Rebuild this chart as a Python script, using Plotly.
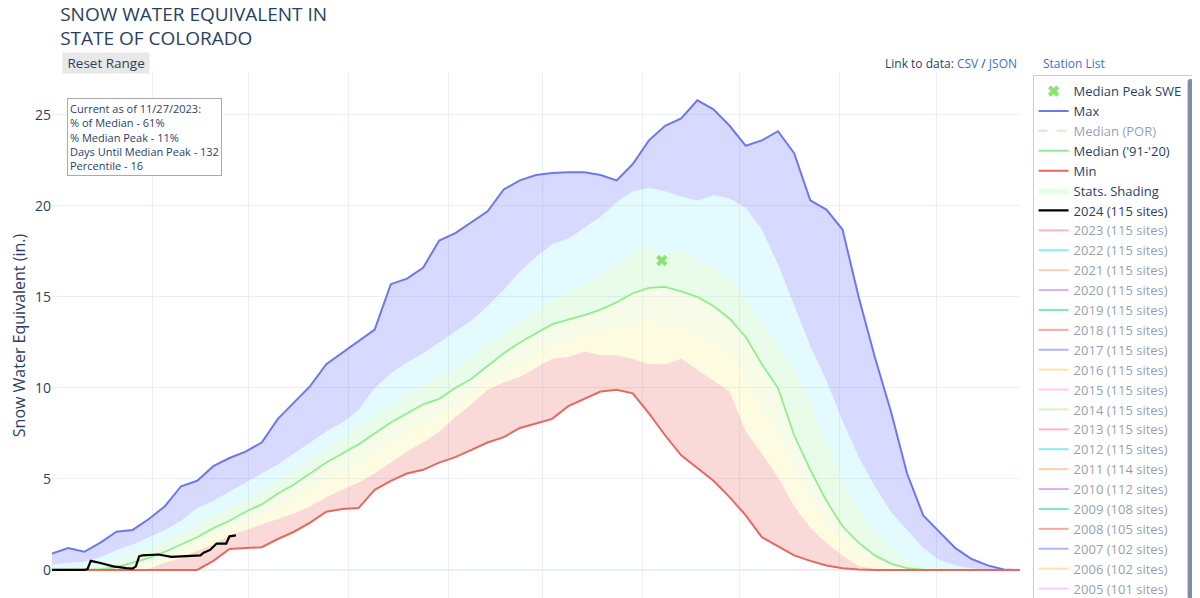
import pandas as pd
import plotly.graph_objects as go

# water year 2024, readings every 5 days from Oct 1
dates = pd.date_range("2023-10-01", periods=61, freq="5D")

swe_max = [0.9, 1.2, 1.0, 1.5, 2.1, 2.2, 2.8, 3.5, 4.6, 4.9,
           5.7, 6.15, 6.5, 7.0, 8.3, 9.2, 10.1, 11.3, 11.95, 12.6,
           13.2, 15.7, 16.0, 16.6, 18.1, 18.5, 19.1, 19.7, 20.9, 21.4,
           21.7, 21.8, 21.85, 21.85, 21.7, 21.4, 22.3, 23.6, 24.4, 24.8,
           25.8, 25.3, 24.4, 23.3, 23.6, 24.1, 22.9, 20.3, 19.8, 18.7,
           15.0, 11.7, 8.7, 5.3, 3.0, 2.1, 1.2, 0.6, 0.25, 0.03, 0.0]
swe_p90 = [0.3, 0.4, 0.45, 0.7, 1.1, 1.4, 1.8, 2.2, 2.7, 3.4,
           3.8, 4.3, 4.8, 5.3, 5.8, 6.4, 7.0, 7.6, 8.1, 8.8,
           10.0, 10.8, 11.4, 11.9, 12.5, 13.1, 13.7, 14.5, 15.4, 16.4,
           17.2, 17.9, 18.2, 18.8, 19.4, 20.2, 20.8, 21.0, 20.8, 20.5,
           20.3, 20.6, 20.4, 19.9, 18.7, 16.8, 14.5, 12.3, 10.4, 8.2,
           6.2, 4.6, 3.2, 2.2, 1.2, 0.55, 0.25, 0.1, 0.0, 0.0, 0.0]
swe_p70 = [0.05, 0.1, 0.15, 0.3, 0.55, 0.85, 1.2, 1.6, 2.0, 2.5,
           3.0, 3.4, 3.9, 4.4, 4.9, 5.5, 6.1, 6.7, 7.3, 7.9,
           8.5, 9.1, 9.7, 10.2, 10.6, 11.1, 11.7, 12.4, 13.1, 13.6,
           14.2, 14.8, 15.3, 15.7, 16.2, 16.8, 17.4, 17.8, 17.3, 17.6,
           17.0, 16.6, 16.0, 14.9, 13.6, 12.4, 11.0, 9.2, 7.0, 5.0,
           3.3, 2.1, 1.2, 0.6, 0.25, 0.08, 0.02, 0.0, 0.0, 0.0, 0.0]
swe_median = [0.0, 0.0, 0.02, 0.05, 0.15, 0.4, 0.65, 1.0, 1.4, 1.8,
              2.3, 2.7, 3.2, 3.6, 4.2, 4.7, 5.3, 5.9, 6.4, 6.9,
              7.5, 8.1, 8.6, 9.1, 9.4, 10.0, 10.5, 11.2, 11.9, 12.5,
              13.0, 13.5, 13.75, 14.0, 14.3, 14.7, 15.2, 15.5, 15.55, 15.3,
              15.0, 14.5, 13.8, 12.8, 11.3, 10.0, 7.4, 5.5, 3.8, 2.4,
              1.5, 0.8, 0.35, 0.1, 0.02, 0.0, 0.0, 0.0, 0.0, 0.0, 0.0]
swe_p30 = [0.0, 0.0, 0.0, 0.0, 0.02, 0.1, 0.3, 0.6, 0.95, 1.35,
           1.8, 2.2, 2.6, 3.0, 3.5, 3.9, 4.4, 4.9, 5.4, 5.8,
           6.4, 7.0, 7.5, 8.0, 8.5, 9.0, 9.6, 10.3, 10.8, 11.3,
           11.8, 12.3, 12.6, 12.9, 13.1, 13.3, 13.5, 13.7, 13.5, 13.3,
           13.0, 12.6, 12.0, 10.6, 9.0, 7.5, 5.6, 3.9, 2.6, 1.6,
           0.8, 0.35, 0.1, 0.02, 0.0, 0.0, 0.0, 0.0, 0.0, 0.0, 0.0]
swe_p10 = [0.0, 0.0, 0.0, 0.0, 0.0, 0.0, 0.05, 0.4, 0.65, 1.05,
           1.4, 1.9, 2.2, 2.5, 2.8, 3.1, 3.5, 4.0, 4.4, 4.8,
           5.3, 5.9, 6.5, 7.0, 7.6, 8.4, 9.1, 9.9, 10.3, 10.6,
           11.1, 11.6, 11.7, 12.0, 11.8, 11.8, 11.6, 11.3, 11.3, 11.6,
           11.0, 10.4, 9.8, 7.6, 6.4, 5.1, 3.5, 2.3, 1.5, 0.8,
           0.2, 0.05, 0.0, 0.0, 0.0, 0.0, 0.0, 0.0, 0.0, 0.0, 0.0]
swe_min = [0.0, 0.0, 0.0, 0.0, 0.0, 0.0, 0.0, 0.0, 0.0, 0.0,
           0.5, 1.15, 1.2, 1.25, 1.7, 2.1, 2.6, 3.2, 3.35, 3.4,
           4.4, 4.9, 5.3, 5.5, 5.9, 6.2, 6.6, 7.0, 7.3, 7.8,
           8.05, 8.3, 9.0, 9.4, 9.8, 9.9, 9.7, 8.6, 7.4, 6.3,
           5.6, 4.9, 4.0, 3.0, 1.8, 1.3, 0.8, 0.5, 0.25, 0.1,
           0.02, 0.0, 0.0, 0.0, 0.0, 0.0, 0.0, 0.0, 0.0, 0.0, 0.0]

wy2024_dates = ["2023-10-01", "2023-10-11", "2023-10-12", "2023-10-13", "2023-10-16",
                "2023-10-20", "2023-10-24", "2023-10-26", "2023-10-27", "2023-10-28",
                "2023-10-29", "2023-11-03", "2023-11-07", "2023-11-11", "2023-11-16",
                "2023-11-17", "2023-11-19", "2023-11-21", "2023-11-24", "2023-11-25",
                "2023-11-27"]
wy2024_swe = [0.0, 0.0, 0.05, 0.5, 0.38, 0.2, 0.1, 0.08, 0.2, 0.75,
              0.8, 0.85, 0.72, 0.75, 0.8, 0.95, 1.1, 1.45, 1.45, 1.85, 1.9]

peak_date = ["2024-04-07"]
peak_swe = [17.0]

past_years = [2023, 2022, 2021, 2020, 2019, 2018, 2017, 2016, 2015, 2014,
              2013, 2012, 2011, 2010, 2009, 2008, 2007, 2006, 2005]
past_sites = [115, 115, 115, 115, 115, 115, 115, 115, 115, 115,
              115, 115, 114, 112, 108, 105, 102, 102, 101]
year_colors = ["#FF6692", "#19D3F3", "#FFA15A", "#AB63FA", "#00CC96", "#EF553B",
               "#636EFA", "#FECB52", "#FF97FF", "#B6E880"]

info_text = ("Current as of 11/27/2023:<br>% of Median - 61%<br>% Median Peak - 11%"
             "<br>Days Until Median Peak - 132<br>Percentile - 16")

fig = go.Figure()

# stats shading, drawn bottom to top
bands = [
    (swe_min, None, False),
    (swe_p10, "rgba(230,80,80,0.22)", False),
    (swe_p30, "rgba(250,240,100,0.2)", False),
    (swe_median, "rgba(215,240,140,0.2)", False),
    (swe_p70, "rgba(144,238,144,0.2)", True),
    (swe_p90, "rgba(25,211,243,0.12)", False),
    (swe_max, "rgba(99,110,250,0.26)", False),
]
for vals, col, show in bands:
    fig.add_trace(go.Scatter(
        x=dates, y=vals, name="Stats. Shading", mode="lines",
        line=dict(width=0), fill=None if col is None else "tonexty",
        fillcolor=col, legendgroup="stats", showlegend=show,
        legendrank=6, hoverinfo="skip"))

fig.add_trace(go.Scatter(x=dates, y=swe_max, name="Max", mode="lines",
                         line=dict(color="rgb(110,120,235)", width=2), legendrank=2))
# hidden traces: only their legend entries show, so no points are drawn
fig.add_trace(go.Scatter(x=[None], y=[None], name="Median (POR)", mode="lines",
                         line=dict(color="#90ee90", width=2, dash="dash"),
                         visible="legendonly", legendrank=3))
fig.add_trace(go.Scatter(x=dates, y=swe_median, name="Median ('91-'20)", mode="lines",
                         line=dict(color="#90ee90", width=1.8), legendrank=4))
fig.add_trace(go.Scatter(x=dates, y=swe_min, name="Min", mode="lines",
                         line=dict(color="rgb(230,105,95)", width=2), legendrank=5))

for i, (yr, n) in enumerate(zip(past_years, past_sites)):
    fig.add_trace(go.Scatter(x=[None], y=[None], name="%d (%d sites)" % (yr, n), mode="lines",
                             line=dict(color=year_colors[i % len(year_colors)], width=2),
                             visible="legendonly", legendrank=8 + i))

fig.add_trace(go.Scatter(x=wy2024_dates, y=wy2024_swe, name="2024 (115 sites)",
                         mode="lines", line=dict(color="black", width=2.2), legendrank=7))
fig.add_trace(go.Scatter(x=peak_date, y=peak_swe, name="Median Peak SWE", mode="markers",
                         marker=dict(symbol="x", color="#86e66e", size=10), legendrank=1))

# page body has an 8px margin, so the figure is offset by 8px
fig.update_layout(
    template="plotly_white",
    width=1200, height=598,
    margin=dict(l=44, r=188, t=65, b=8, autoexpand=False),
    font=dict(family="Open Sans, verdana, arial, sans-serif", color="#2a3f5f"),
    title=dict(text="SNOW WATER EQUIVALENT IN<br>STATE OF COLORADO",
               x=0.0435, xanchor="left", y=0.979, yanchor="top", font=dict(size=19)),
    xaxis=dict(type="date", range=["2023-10-01", "2024-07-27"], dtick="M1",
               tick0="2023-10-01", showticklabels=False, showgrid=True, zeroline=False),
    yaxis=dict(range=[-1.54, 27.3], dtick=5, automargin=False,
               title=dict(text="Snow Water Equivalent (in.)", font=dict(size=16), standoff=10),
               tickfont=dict(size=14)),
    legend=dict(x=1.013, y=0.996, xanchor="left", yanchor="top", traceorder="normal",
                bordercolor="#cccccc", borderwidth=1, font=dict(size=13)),
    showlegend=True,
)

fig.add_annotation(text="&nbsp;Reset Range&nbsp;", xref="paper", yref="paper", x=0.01, y=1.04,
                   xanchor="left", yanchor="top", showarrow=False,
                   font=dict(size=13.5, color="#2a3f5f"), bgcolor="#e8e8e8", borderpad=1)
fig.add_annotation(text=info_text, xref="paper", yref="paper", x=0.0155, y=0.952,
                   xanchor="left", yanchor="top", align="left", showarrow=False,
                   font=dict(size=11, color="#2a3f5f"), bgcolor="white",
                   bordercolor="#aaaaaa", borderwidth=1, borderpad=2)
fig.add_annotation(text='Link to data: <span style="color:#3d6fcf">CSV</span> / '
                        '<span style="color:#3d6fcf">JSON</span>',
                   xref="paper", yref="paper", x=0.999, y=0.998, xanchor="right",
                   yanchor="bottom", showarrow=False, font=dict(size=12, color="#2a3f5f"))
fig.add_annotation(text='<span style="color:#3d6fcf">Station List</span>',
                   xref="paper", yref="paper", x=1.022, y=0.998, xanchor="left",
                   yanchor="bottom", showarrow=False, font=dict(size=12))

fig.write_html("out.html")
